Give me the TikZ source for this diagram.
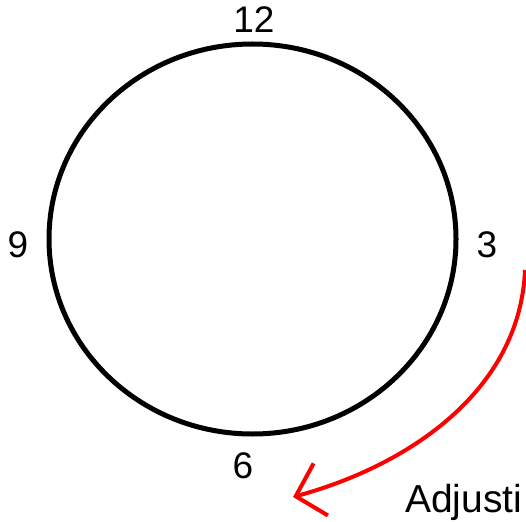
\documentclass[tikz,border=0pt]{standalone}
\usepackage{fontspec}
\setmainfont{Liberation Sans}
\usetikzlibrary{arrows.meta}
\begin{document}
\begin{tikzpicture}[
    x=1pt, y=-1pt,
    hour/.style={font=\fontsize{37}{40}\selectfont, anchor=base, inner sep=0pt},
    dial/.style={draw, line width=5pt},
    turn/.style={draw=red, line width=4pt, -{Straight Barb[length=26pt, width=54pt]}},
  ]
    \useasboundingbox (0,0) rectangle (526,521);

    % Clock face
    \coordinate (face) at (252.5,239);
    \draw[dial] (face) ellipse [x radius=203.5pt, y radius=195pt];

    % Hour labels
    \node[hour] (h12) at (254,33) {12};
    \node[hour] (h3) at (487,257) {3};
    \node[hour] (h6) at (243,478) {6};
    \node[hour] (h9) at (18,257) {9};

    % Adjustment arrow
    \coordinate (from) at (525,270);
    \coordinate (to) at (293,497);
    \draw[turn] (from) .. controls (520,390) and (410,465) .. (to);
    \node[hour, font=\fontsize{39}{42}\selectfont, anchor=base west] (adjust) at (405,512) {Adjusti};
\end{tikzpicture}
\end{document}
